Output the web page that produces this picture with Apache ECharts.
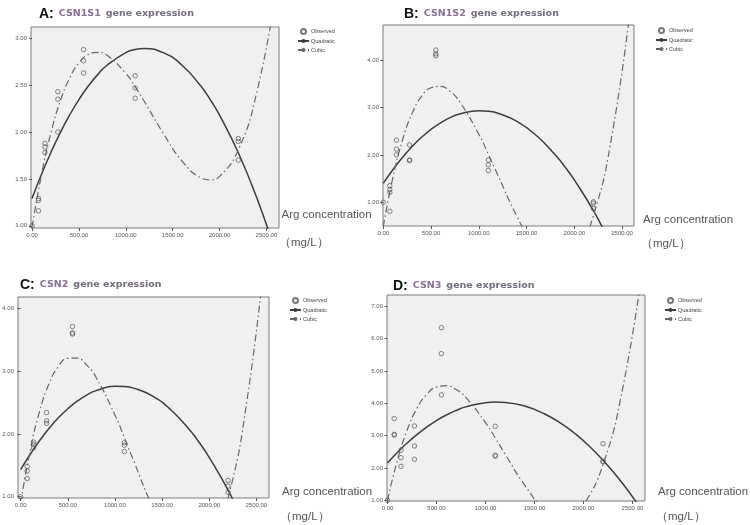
<!DOCTYPE html>
<html>
<head>
<meta charset="utf-8">
<script src="https://cdn.jsdelivr.net/npm/echarts@6/dist/echarts.min.js"></script>
<style>html,body{margin:0;padding:0;background:#fff;}#c{width:750px;height:525px;}</style>
</head>
<body>
<div id="c"></div>
<script>
// ---- data ----
const CONC = [0, 68.75, 137.5, 275, 550, 1100, 2200];
const X_TICKS = [0, 500, 1000, 1500, 2000, 2500];

// observed values (replicates per concentration)
const obsA = [[1.00], [1.29, 1.27, 1.16], [1.88, 1.84, 1.78], [2.43, 2.35, 2.00], [2.88, 2.76, 2.63], [2.60, 2.47, 2.36], [1.93, 1.90, 1.70]];
const obsB = [[1.00], [1.35, 1.27, 1.21, 0.81], [2.31, 2.12, 2.00], [2.21, 1.89, 1.88], [4.21, 4.13, 4.09], [1.89, 1.79, 1.67], [1.01, 0.98, 0.87]];
const obsC = [[1.00], [1.48, 1.41, 1.29], [1.87, 1.83, 1.78], [2.34, 2.21, 2.17], [3.71, 3.61, 3.59], [1.86, 1.82, 1.72], [1.26, 1.17, 1.07]];
const obsD = [[1.00], [3.53, 3.04, 3.02], [2.55, 2.32, 2.05], [3.30, 2.68, 2.27], [6.34, 5.54, 4.26], [3.29, 2.39, 2.37], [2.75, 2.21, 2.19]];

// fitted curves, values
const curveX = [0, 100, 200, 300, 400, 500, 600, 700, 800, 1000, 1100, 1200, 1400, 1600, 1800, 1900, 2000, 2200, 2400, 2600];
const quadA  = [1.29, 1.546, 1.779, 1.99, 2.179, 2.346, 2.49, 2.612, 2.712, 2.846, 2.879, 2.89, 2.846, 2.712, 2.49, 2.346, 2.179, 1.779, 1.29, 0.712];
const cubicA = [0.984, 1.541, 1.985, 2.326, 2.573, 2.737, 2.826, 2.85, 2.818, 2.625, 2.482, 2.322, 1.985, 1.690, 1.512, 1.490, 1.526, 1.809, 2.436, 3.48];
const quadB  = [1.40, 1.687, 1.945, 2.173, 2.370, 2.538, 2.676, 2.785, 2.863, 2.93, 2.918, 2.877, 2.705, 2.413, 2.002, 1.752, 1.472, 0.822, 0.052, -0.84];
const cubicB = [0.487, 1.518, 2.304, 2.868, 3.231, 3.415, 3.443, 3.337, 3.119, 2.436, 2.015, 1.571, 0.701, 0.003, -0.345, -0.332, -0.166, 0.718, 2.483, 5.307];
const quadC  = [1.43, 1.673, 1.892, 2.087, 2.256, 2.401, 2.522, 2.618, 2.689, 2.758, 2.756, 2.729, 2.601, 2.374, 2.050, 1.851, 1.627, 1.105, 0.486, -0.233];
const cubicC = [0.897, 1.727, 2.354, 2.797, 3.074, 3.204, 3.206, 3.098, 2.900, 2.303, 1.943, 1.566, 0.837, 0.266, 0.0, 0.029, 0.189, 0.983, 2.529, 4.978];
const quadD  = [2.155, 2.479, 2.772, 3.034, 3.266, 3.468, 3.640, 3.780, 3.891, 4.021, 4.040, 4.029, 3.915, 3.679, 3.322, 3.098, 2.843, 2.242, 1.520, 0.675];
const cubicD = [0.995, 2.227, 3.166, 3.841, 4.278, 4.503, 4.545, 4.429, 4.182, 3.406, 2.930, 2.431, 1.472, 0.745, 0.465, 0.560, 0.847, 2.106, 4.459, 8.119];

const yTicksA = [1, 1.5, 2, 2.5, 3];
const yTicksB = [1, 2, 3, 4];
const yTicksC = [1, 2, 3, 4];
const yTicksD = [1, 2, 3, 4, 5, 6, 7];

const letters = ['A:', 'B:', 'C:', 'D:'];
const genes = ['CSN1S1', 'CSN1S2', 'CSN2', 'CSN3'];
const seriesNames = ['Observed', 'Quadratic', 'Cubic'];
const xName = 'Arg concentration';
const unitName = '（mg/L）';

// ---- layout ----
const panels = [
  {obs: obsA, quad: quadA, cub: cubicA, yt: yTicksA,
   grid: {left: 31, top: 27, width: 248, height: 201}, x: [-11, 2634], y: [0.976, 3.12],
   title: {left: 39, top: 5}, legend: {left: 297, top: 28}, name1: [281.5, 215], name2: [279, 242.5]},
  {obs: obsB, quad: quadB, cub: cubicB, yt: yTicksB,
   grid: {left: 383, top: 25, width: 251, height: 201}, x: [-3, 2625], y: [0.50, 4.738],
   title: {left: 404, top: 5}, legend: {left: 655, top: 27}, name1: [643, 220], name2: [641, 243.5]},
  {obs: obsC, quad: quadC, cub: cubicC, yt: yTicksC,
   grid: {left: 18, top: 297, width: 251, height: 201}, x: [-28, 2634], y: [0.98, 4.18],
   title: {left: 20, top: 276}, legend: {left: 289, top: 297}, name1: [282, 492], name2: [280, 517]},
  {obs: obsD, quad: quadD, cub: cubicD, yt: yTicksD,
   grid: {left: 387, top: 295, width: 258, height: 206}, x: [-5, 2628], y: [0.98, 7.35],
   title: {left: 393, top: 277}, legend: {left: 664, top: 297}, name1: [658, 492], name2: [656, 517]}
];

const FONT = '"Liberation Sans", Arial, sans-serif';
const option = {
  animation: false,
  backgroundColor: '#ffffff',
  title: [], legend: [], grid: [], xAxis: [], yAxis: [], series: [], graphic: []
};

panels.forEach((p, i) => {
  option.title.push({
    left: p.title.left, top: p.title.top, padding: 0,
    text: '{l|' + letters[i] + '} {g|' + genes[i] + '} {t|gene expression}',
    textStyle: {
      rich: {
        l: {fontSize: 14, fontWeight: 'bold', color: '#111', fontFamily: FONT},
        g: {fontSize: 9.5, color: '#8a7092', fontFamily: '"DejaVu Sans", sans-serif'},
        t: {fontSize: 9.5, color: '#756d7b', fontFamily: '"DejaVu Sans", sans-serif'}
      }
    }
  });
  option.legend.push({
    left: p.legend.left, top: p.legend.top, orient: 'vertical', padding: 0,
    itemWidth: 11, itemHeight: 5, itemGap: 3,
    data: seriesNames,
    textStyle: {fontSize: 5.5, color: '#444', fontFamily: FONT, padding: [0, 0, 0, -3]},
    selectedMode: false
  });
  option.grid.push(Object.assign({
    show: true, backgroundColor: '#f0f0f0', borderColor: '#7b7b7b', borderWidth: 1,
    containLabel: false, outerBoundsMode: 'none'
  }, p.grid));
  option.xAxis.push({
    type: 'value', gridIndex: i, min: p.x[0], max: p.x[1],
    axisLine: {show: false},
    splitLine: {show: false},
    axisTick: {show: true, length: 3, customValues: X_TICKS, lineStyle: {color: '#555', width: 1}},
    axisLabel: {customValues: X_TICKS, fontSize: 6, color: '#555', margin: 4, fontFamily: FONT,
                formatter: v => v.toFixed(2)}
  });
  option.yAxis.push({
    type: 'value', gridIndex: i, min: p.y[0], max: p.y[1],
    axisLine: {show: false},
    splitLine: {show: false},
    axisTick: {show: true, length: 3, customValues: p.yt, lineStyle: {color: '#555', width: 1}},
    axisLabel: {customValues: p.yt, fontSize: 6, color: '#555', margin: 4, fontFamily: FONT,
                formatter: v => v.toFixed(2)}
  });
  // axis title (two lines placed beside the x axis end)
  option.graphic.push({
    type: 'text', x: p.name1[0], y: p.name1[1], silent: true,
    style: {text: xName, fontSize: 11.5, fontFamily: FONT, fill: '#555', align: 'left', verticalAlign: 'middle'}
  });
  option.graphic.push({
    type: 'text', x: p.name2[0], y: p.name2[1], silent: true,
    style: {text: unitName, fontSize: 11.5, fontFamily: FONT, fill: '#555', align: 'left', verticalAlign: 'middle'}
  });
  const pts = [];
  p.obs.forEach((vals, k) => vals.forEach(v => pts.push([CONC[k], v])));
  option.series.push({
    name: 'Observed', type: 'scatter', xAxisIndex: i, yAxisIndex: i,
    data: pts, symbol: 'circle', symbolSize: 4.5, z: 5,
    itemStyle: {color: 'rgba(0,0,0,0)', borderColor: '#555', borderWidth: 0.9}
  });
  option.series.push({
    name: 'Quadratic', type: 'line', xAxisIndex: i, yAxisIndex: i,
    data: curveX.map((x, k) => [x, p.quad[k]]), smooth: true, showSymbol: false, clip: true,
    symbol: 'none',
    lineStyle: {color: '#3d3d3d', width: 1.5}, itemStyle: {color: '#3d3d3d'}
  });
  option.series.push({
    name: 'Cubic', type: 'line', xAxisIndex: i, yAxisIndex: i,
    data: curveX.map((x, k) => [x, p.cub[k]]), smooth: true, showSymbol: false, clip: true,
    symbol: 'none',
    lineStyle: {color: '#666', width: 1.2, type: [7, 3, 1.5, 3]}, itemStyle: {color: '#666'}
  });
});

const chart = echarts.init(document.getElementById('c'), null, {renderer: 'canvas'});
chart.setOption(option);
</script>
</body>
</html>
